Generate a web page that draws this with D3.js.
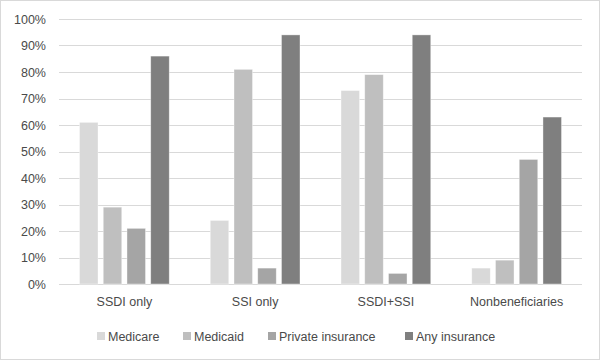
<!DOCTYPE html>
<html>
<head>
<meta charset="utf-8">
<script src="https://cdn.jsdelivr.net/npm/d3@7"></script>
<style>
  body { margin: 0; background: #fff; }
  text { font-family: "Liberation Sans", Arial, sans-serif; fill: #4a4a4a; }
</style>
</head>
<body>
<svg id="chart"></svg>
<script>
// chart data
const groups = ["SSDI only", "SSI only", "SSDI+SSI", "Nonbeneficiaries"];
const seriesNames = ["Medicare", "Medicaid", "Private insurance", "Any insurance"];
const medicare = [61, 24, 73, 6];
const medicaid = [29, 81, 79, 9];
const privateIns = [21, 6, 4, 47];
const anyIns = [86, 94, 94, 63];
const yTicks = [0, 10, 20, 30, 40, 50, 60, 70, 80, 90, 100];

const colors = ["#d9d9d9", "#bfbfbf", "#a5a5a5", "#7f7f7f"];
const seriesValues = [medicare, medicaid, privateIns, anyIns];

const W = 602, H = 362;
const margin = { top: 19, right: 20, bottom: 78, left: 59 };
const width = W - margin.left - margin.right;
const height = H - margin.top - margin.bottom;

const svg = d3.select("#chart").attr("width", W).attr("height", H);

svg.append("rect")
  .attr("x", 0.5).attr("y", 0.5)
  .attr("width", W - 3).attr("height", H - 3)
  .attr("fill", "#fff").attr("stroke", "#d9d9d9");

const g = svg.append("g").attr("transform", `translate(${margin.left},${margin.top})`);

const x0 = d3.scaleBand().domain(groups).range([0, width]).paddingInner(0).paddingOuter(0);
const x1 = d3.scaleBand().domain(seriesNames).range([20.5, x0.bandwidth() - 20.5]).paddingInner(0.22).paddingOuter(0);
const y = d3.scaleLinear().domain([0, 100]).range([height, 0]);

// gridlines
g.selectAll(".grid")
  .data(yTicks)
  .enter()
  .append("line")
  .attr("x1", 0).attr("x2", width)
  .attr("y1", d => Math.round(y(d)) + 0.5)
  .attr("y2", d => Math.round(y(d)) + 0.5)
  .attr("stroke", "#d9d9d9")
  .attr("stroke-width", 1);

// y axis labels
const yAxis = d3.axisLeft(y).tickValues(yTicks).tickFormat(d => d + "%").tickSize(0).tickPadding(13);
g.append("g").call(yAxis)
  .call(a => a.select(".domain").remove())
  .selectAll("text")
  .attr("font-size", "12.5px")
  .attr("font-family", null)
  .attr("fill", null);

// bars
const rows = groups.map((grp, i) => ({ grp, vals: seriesNames.map((s, j) => ({ s, j, v: seriesValues[j][i] })) }));

g.selectAll(".group")
  .data(rows)
  .enter()
  .append("g")
  .attr("transform", d => `translate(${x0(d.grp)},0)`)
  .selectAll("rect")
  .data(d => d.vals)
  .enter()
  .append("rect")
  .attr("x", d => x1(d.s))
  .attr("width", x1.bandwidth())
  .attr("y", d => y(d.v))
  .attr("height", d => y(0) - y(d.v))
  .attr("fill", d => colors[d.j])
  .attr("stroke", "#ffffff")
  .attr("stroke-opacity", 0.5)
  .attr("stroke-width", 0.75);

// x axis labels
const xAxis = d3.axisBottom(x0).tickSize(0).tickPadding(13);
g.append("g")
  .attr("transform", `translate(0,${height})`)
  .call(xAxis)
  .call(a => a.select(".domain").remove())
  .selectAll("text")
  .attr("font-size", "12.5px")
  .attr("font-family", null)
  .attr("fill", null);

// legend
const legendX = [97, 183, 268, 405];
const legend = svg.append("g");
seriesNames.forEach((s, j) => {
  legend.append("rect")
    .attr("x", legendX[j]).attr("y", 332)
    .attr("width", 8).attr("height", 8)
    .attr("fill", colors[j]);
  legend.append("text")
    .attr("x", legendX[j] + 11).attr("y", 340.5)
    .attr("font-size", "12.5px")
    .text(s);
});
</script>
</body>
</html>
